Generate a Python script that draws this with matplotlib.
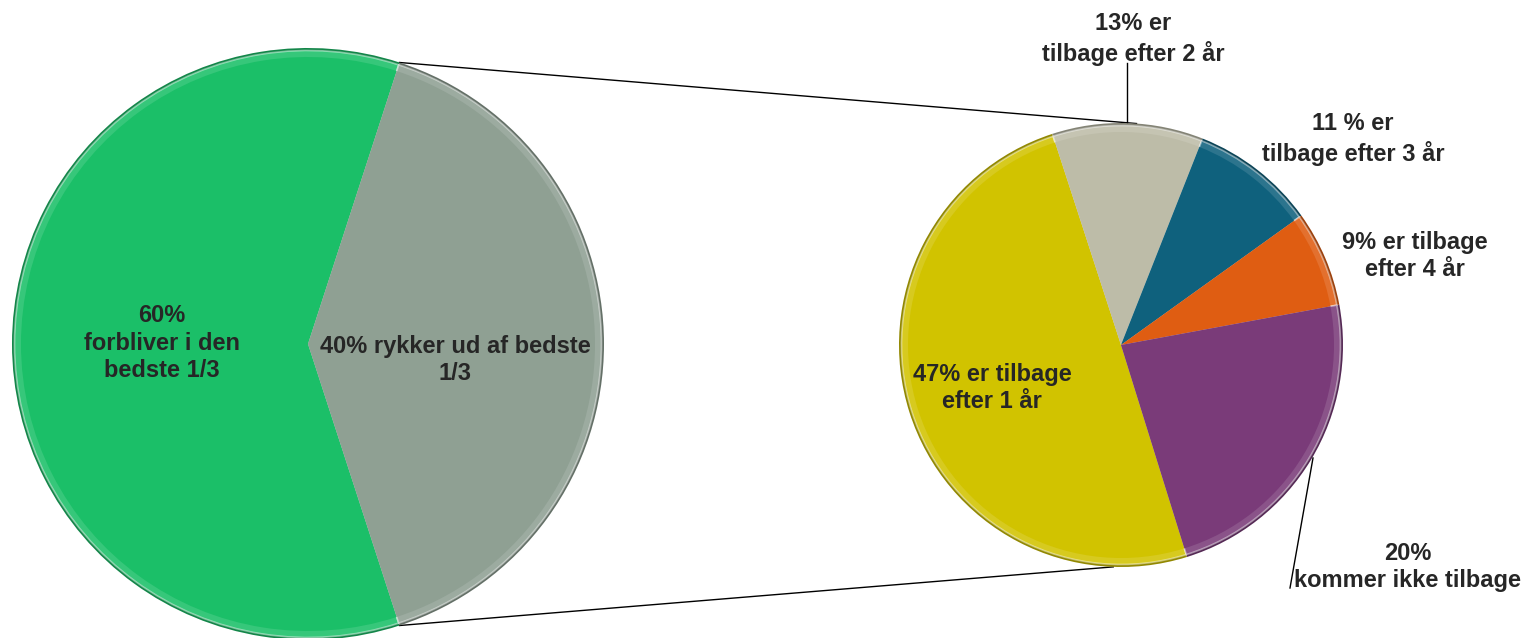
import numpy as np
import matplotlib.pyplot as plt
from matplotlib.colors import to_rgb

# ---------------- DATA ----------------
main_labels = ["60%\nforbliver i den\nbedste 1/3", "40% rykker ud af bedste\n1/3"]
main_values = [60, 40]
main_colors = ["#1BBF68", "#8FA093"]

sub_labels = ["47% er tilbage\nefter 1 år", "13% er\ntilbage efter 2 år",
              "11 % er\ntilbage efter 3 år", "9% er tilbage\nefter 4 år",
              "20%\nkommer ikke tilbage"]
# shares as drawn in the picture (labels are the typed text)
sub_values = [49.8, 11.0, 9.1, 7.0, 23.1]
sub_colors = ["#D1C300", "#BDBCA8", "#0F617D", "#DF5D12", "#7A3B79"]

W, H = 1526, 638
TXT = "#262626"
plt.rcParams['font.family'] = ['Liberation Sans', 'DejaVu Sans']

fig = plt.figure(figsize=(W / 100, H / 100), dpi=100)
ax = fig.add_axes([0, 0, 1, 1])


def shade(c, f):
    r, g, b = to_rgb(c)
    return (r * f, g * f, b * f)


def tint(c, f):
    r, g, b = to_rgb(c)
    return (r + (1 - r) * f, g + (1 - g) * f, b + (1 - b) * f)


def bevel_pie(values, colors, center, radius, start, counterclock):
    kw = dict(center=center, startangle=start, counterclock=counterclock)
    # dark rim, lighter bevel band, then the flat face
    ax.pie(values, colors=[shade(c, 0.7) for c in colors], radius=radius,
           wedgeprops=dict(linewidth=0), **kw)
    ax.pie(values, colors=[tint(c, 0.12) for c in colors], radius=radius - 2.5,
           wedgeprops=dict(linewidth=1.2, edgecolor=(1, 1, 1, 0.45)), **kw)
    ax.pie(values, colors=colors, radius=radius - 9,
           wedgeprops=dict(linewidth=0), **kw)


# pixel -> data (y up)
def P(x, y):
    return x, H - y


# ---------------- LEFT PIE ----------------
c1, r1 = P(308, 344), 296
start1 = 72
bevel_pie(main_values, main_colors, c1, r1, start1, True)

# ---------------- RIGHT PIE ----------------
c2, r2 = P(1121, 345), 222
bevel_pie(sub_values, sub_colors, c2, r2, -72.7, False)

# ---------------- CONNECTOR LINES ----------------
a_top = np.radians(start1)
a_bot = np.radians(start1 + 360 * main_values[0] / sum(main_values))
p_top = (c1[0] + r1 * np.cos(a_top), c1[1] + r1 * np.sin(a_top))
p_bot = (c1[0] + r1 * np.cos(a_bot), c1[1] + r1 * np.sin(a_bot))
q_top = (c2[0] + r2 * np.cos(np.radians(86)), c2[1] + r2 * np.sin(np.radians(86)))
q_bot = (c2[0] + r2 * np.cos(np.radians(-92)), c2[1] + r2 * np.sin(np.radians(-92)))
ax.plot([p_top[0], q_top[0]], [p_top[1], q_top[1]], color="black", lw=1, zorder=0)
ax.plot([p_bot[0], q_bot[0]], [p_bot[1], q_bot[1]], color="black", lw=1, zorder=0)

# label leader lines
x0, y0 = P(1127, 63)
x1, y1 = P(1127, 122)
ax.plot([x0, x1], [y0, y1], color="black", lw=1)
x0, y0 = P(1313, 458)
x1, y1 = P(1290, 588)
ax.plot([x0, x1], [y0, y1], color="black", lw=1)

# ---------------- LABELS ----------------
main_pos = [P(162, 343), P(455, 360)]
for lab, pos in zip(main_labels, main_pos):
    ax.text(pos[0], pos[1], lab, ha="center", va="center", fontsize=17,
            fontweight="bold", color=TXT, linespacing=1.25, zorder=10)

sub_pos = [P(992, 388), P(1133, 39), P(1353, 139), P(1415, 256), P(1408, 567)]
for lab, pos in zip(sub_labels, sub_pos):
    ax.text(pos[0], pos[1], lab, ha="center", va="center", fontsize=17,
            fontweight="bold", color=TXT, linespacing=1.25, zorder=10)

ax.set_xlim(0, W)
ax.set_ylim(0, H)
ax.set_aspect("equal")
ax.axis("off")

fig.savefig("out.png", dpi=100, facecolor="white")
